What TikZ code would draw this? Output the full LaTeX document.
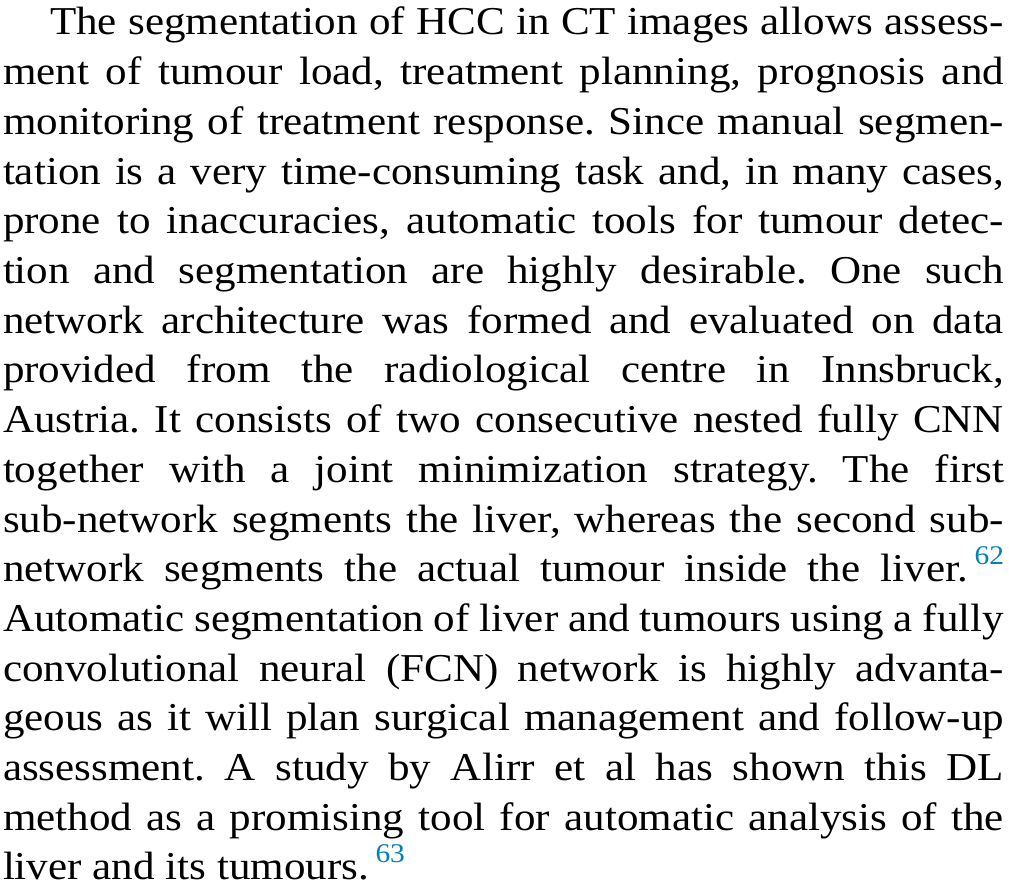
\documentclass[tikz,border=0pt]{standalone}
\usepackage{fontspec}
\setmainfont[FakeStretch=1.09]{Liberation Serif}
\definecolor{citeblue}{RGB}{0,130,180}
\newcommand{\citemark}[1]{\,\raisebox{17pt}{\fontsize{27}{27}\selectfont\color{citeblue}#1}}
\begin{document}
\frenchspacing
\begin{tikzpicture}[x=1pt,y=1pt,
  txtline/.style={anchor=base west, inner sep=0pt, outer sep=0pt,
    font=\fontsize{39.5}{48}\selectfont\frenchspacing}]
\fill[white] (0,0) rectangle (1009,-896);
\useasboundingbox (0,0) rectangle (1009,-896);
\node[txtline] (l1) at (50,-35) {\makebox[954pt][s]{The segmentation of HCC in CT images allows assess-}};
\node[txtline] (l2) at (3,-84.7) {\makebox[1001pt][s]{ment of tumour load, treatment planning, prognosis and}};
\node[txtline] (l3) at (3,-134.4) {\makebox[1001pt][s]{monitoring of treatment response. Since manual segmen-}};
\node[txtline] (l4) at (3,-184.1) {\makebox[1001pt][s]{tation is a very time-consuming task and, in many cases,}};
\node[txtline] (l5) at (3,-233.8) {\makebox[1001pt][s]{prone to inaccuracies, automatic tools for tumour detec-}};
\node[txtline] (l6) at (3,-283.5) {\makebox[1001pt][s]{tion and segmentation are highly desirable. One such}};
\node[txtline] (l7) at (3,-333.2) {\makebox[1001pt][s]{network architecture was formed and evaluated on data}};
\node[txtline] (l8) at (3,-382.9) {\makebox[1001pt][s]{provided from the radiological centre in Innsbruck,}};
\node[txtline] (l9) at (3,-432.6) {\makebox[1001pt][s]{Austria. It consists of two consecutive nested fully CNN}};
\node[txtline] (l10) at (3,-482.3) {\makebox[1001pt][s]{together with a joint minimization strategy. The first}};
\node[txtline] (l11) at (3,-532.0) {\makebox[1001pt][s]{sub-network segments the liver, whereas the second sub-}};
\node[txtline] (l12) at (3,-581.7) {\makebox[1001pt][s]{network segments the actual tumour inside the liver.\citemark{62}}};
\node[txtline] (l13) at (3,-631.4) {\makebox[1001pt][s]{Automatic segmentation of liver and tumours using a fully}};
\node[txtline] (l14) at (3,-681.1) {\makebox[1001pt][s]{convolutional neural (FCN) network is highly advanta-}};
\node[txtline] (l15) at (3,-730.8) {\makebox[1001pt][s]{geous as it will plan surgical management and follow-up}};
\node[txtline] (l16) at (3,-780.5) {\makebox[1001pt][s]{assessment. A study by Alirr et al has shown this DL}};
\node[txtline] (l17) at (3,-830.2) {\makebox[1001pt][s]{method as a promising tool for automatic analysis of the}};
\node[txtline] (l18) at (3,-879.9) {liver and its tumours.\citemark{63}};
\end{tikzpicture}
\end{document}
